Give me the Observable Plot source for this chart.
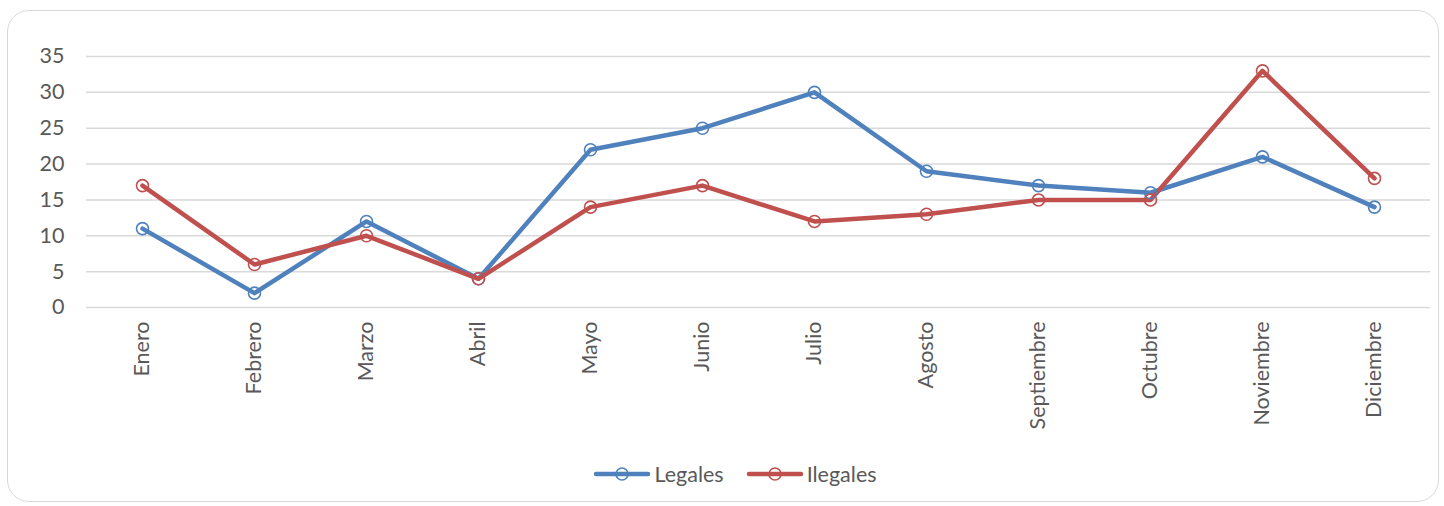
<!DOCTYPE html>
<html>
<head>
<meta charset="utf-8">
<script src="https://cdn.jsdelivr.net/npm/d3@7"></script>
<script src="https://cdn.jsdelivr.net/npm/@observablehq/plot@0.6"></script>
<style>
  html, body { margin: 0; padding: 0; background: #fff; }
  body { width: 1444px; height: 506px; position: relative; overflow: hidden; font-family: "Lato", "Open Sans", sans-serif; }
  #frame { position: absolute; left: 7px; top: 10px; width: 1432px; height: 492px; border: 1.5px solid #d9d9d9; border-radius: 22px; box-sizing: border-box; }
  #chart { position: absolute; left: 0; top: 0; }
  #legend { position: absolute; top: 461px; left: 0; width: 1444px; display: flex; justify-content: center; gap: 22px; font-size: 21.5px; color: #595959; padding-left: 26px; box-sizing: border-box; }
  .item { display: flex; align-items: center; gap: 3px; }
</style>
</head>
<body>
<div id="frame"></div>
<div id="chart"></div>
<div id="legend"></div>
<script>
const months = ["Enero","Febrero","Marzo","Abril","Mayo","Junio","Julio","Agosto","Septiembre","Octubre","Noviembre","Diciembre"];
const legales = [11, 2, 12, 4, 22, 25, 30, 19, 17, 16, 21, 14];
const ilegales = [17, 6, 10, 4, 14, 17, 12, 13, 15, 15, 33, 18];
const seriesNames = ["Legales", "Ilegales"];
const seriesColors = ["#4F81BD", "#C0504D"];
const yTicks = [0, 5, 10, 15, 20, 25, 30, 35];

const data = [];
months.forEach((m, i) => {
  data.push({month: m, value: legales[i], series: seriesNames[0]});
  data.push({month: m, value: ilegales[i], series: seriesNames[1]});
});

const plot = Plot.plot({
  width: 1444,
  height: 440,
  marginLeft: 86,
  marginRight: 14,
  marginTop: 56,
  marginBottom: 133,
  style: {fontFamily: "Lato, 'Open Sans', sans-serif", fontSize: "21.5px", color: "#595959", background: "transparent"},
  x: {type: "point", domain: months, padding: 0.5, label: null},
  y: {domain: [0, 35], label: null},
  color: {domain: seriesNames, range: seriesColors},
  marks: [
    Plot.ruleY(yTicks, {stroke: "#d9d9d9", strokeWidth: 1.5}),
    Plot.axisY({ticks: yTicks, tickSize: 0, tickPadding: 22, label: null, fill: "#595959"}),
    Plot.axisX({tickSize: 0, tickRotate: -90, tickPadding: 14, label: null, fill: "#595959"}),
    Plot.line(data, {x: "month", y: "value", z: "series", stroke: "series", strokeWidth: 4.5, strokeLinejoin: "round", strokeLinecap: "round"}),
    Plot.dot(data, {x: "month", y: "value", stroke: "series", r: 6, strokeWidth: 1.6, fill: "none"})
  ]
});
document.getElementById("chart").appendChild(plot);

const legend = document.getElementById("legend");
seriesNames.forEach((name, i) => {
  const item = document.createElement("div");
  item.className = "item";
  item.innerHTML = `<svg width="58" height="16"><line x1="3" y1="8" x2="55" y2="8" stroke="${seriesColors[i]}" stroke-width="4.5" stroke-linecap="round"/><circle cx="29" cy="8" r="6" fill="none" stroke="${seriesColors[i]}" stroke-width="1.6"/></svg><span>${name}</span>`;
  legend.appendChild(item);
});
</script>
</body>
</html>
